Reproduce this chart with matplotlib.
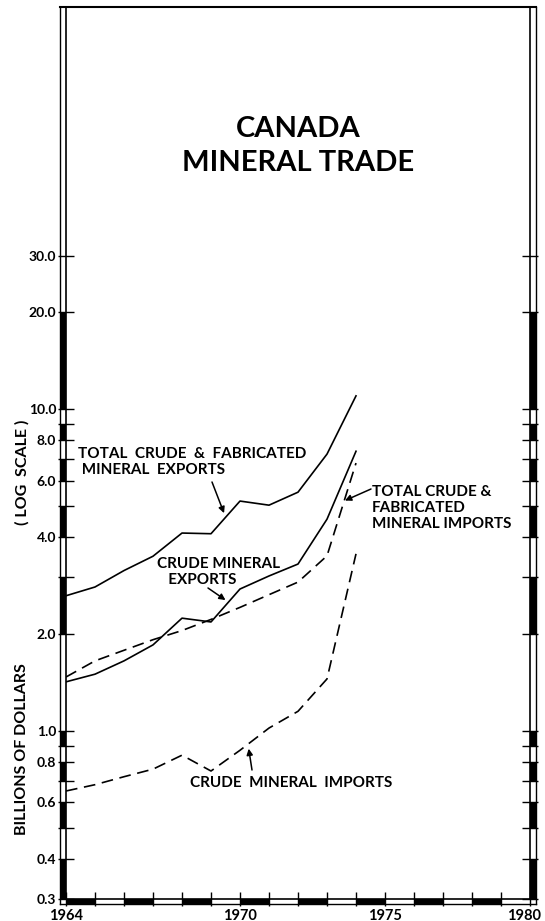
import numpy as np
import matplotlib.pyplot as plt
from matplotlib.patches import Rectangle
from matplotlib.transforms import blended_transform_factory, ScaledTranslation

# values (billions of dollars)
years = list(range(1964, 1975))
total_exports = [2.63, 2.80, 3.15, 3.49, 4.12, 4.10, 5.18, 5.03, 5.52, 7.25, 11.0]
crude_exports = [1.42, 1.50, 1.65, 1.85, 2.24, 2.18, 2.76, 3.03, 3.30, 4.55, 7.4]
total_imports = [1.47, 1.65, 1.78, 1.92, 2.05, 2.22, 2.42, 2.65, 2.90, 3.50, 6.8]
crude_imports = [0.65, 0.68, 0.72, 0.76, 0.84, 0.75, 0.87, 1.02, 1.15, 1.45, 3.55]

ytick_vals = [0.3, 0.4, 0.5, 0.6, 0.7, 0.8, 0.9, 1, 2, 3, 4, 5, 6, 7, 8, 9, 10, 20, 30]
ytick_text = {0.3: "0.3", 0.4: "0.4", 0.6: "0.6", 0.8: "0.8", 1: "1.0", 2: "2.0",
              4: "4.0", 6: "6.0", 8: "8.0", 10: "10.0", 20: "20.0", 30: "30.0"}
xtick_vals = list(range(1964, 1981))
xtick_text = {1964: "1964", 1970: "1970", 1975: "1975", 1980: "1980"}

plt.rcParams['font.family'] = ['Lato', 'DejaVu Sans']

W, H = 545, 921
fig = plt.figure(figsize=(W/100, H/100), dpi=100)
ax = fig.add_axes([66/W, 1-899/H, 464/W, 892/H])
ax.set_yscale('log')
ax.set_ylim(0.3, 178)
ax.set_xlim(1964, 1980)

ax.plot(years, total_exports, color='k', lw=1.2)
ax.plot(years, crude_exports, color='k', lw=1.2)
ax.plot(years, total_imports, color='k', lw=1.2, dashes=(7, 4))
ax.plot(years, crude_imports, color='k', lw=1.2, dashes=(7, 4))

# ticks
ax.set_yticks(ytick_vals)
ax.set_yticklabels([ytick_text.get(v, "") for v in ytick_vals])
ax.yaxis.set_minor_locator(plt.NullLocator())
ax.yaxis.set_minor_formatter(plt.NullFormatter())
ax.set_xticks(xtick_vals)
ax.set_xticklabels([xtick_text.get(v, "") for v in xtick_vals])
ax.tick_params(axis='y', which='both', direction='inout', length=12, width=1,
               right=True, labelright=False, pad=1, labelsize=10)
ax.tick_params(axis='x', direction='inout', length=10, width=1, pad=2, labelsize=10.5)
for lab in ax.get_yticklabels() + ax.get_xticklabels():
    lab.set_fontweight('bold')
last = ax.get_xticklabels()[-1]
last.set_transform(last.get_transform() + ScaledTranslation(-4/72, 0, fig.dpi_scale_trans))
for s in ax.spines.values():
    s.set_linewidth(1.2)

# decorative double frame with alternating black bars
bw_x = 6 / 464
bw_y = 5 / 892
tl = blended_transform_factory(ax.transAxes, ax.transData)
edges = ytick_vals + [178]
for i in range(len(edges) - 1):
    if i % 2 == 0 and edges[i] < 20:
        for x0 in (-bw_x, 1):
            ax.add_patch(Rectangle((x0, edges[i]), bw_x, edges[i+1]-edges[i], transform=tl,
                                   color='k', clip_on=False, lw=0))
    if edges[i] == 10:
        for x0 in (-bw_x, 1):
            ax.add_patch(Rectangle((x0, 10), bw_x, 10, transform=tl,
                                   color='k', clip_on=False, lw=0))
tb = blended_transform_factory(ax.transData, ax.transAxes)
for yr in range(1964, 1980, 2):
    ax.add_patch(Rectangle((yr, -bw_y), 1, bw_y, transform=tb, color='k', clip_on=False, lw=0))
ax.plot([-bw_x, -bw_x], [-bw_y, 1], transform=ax.transAxes, color='k', lw=1, clip_on=False)
ax.plot([1+bw_x, 1+bw_x], [-bw_y, 1], transform=ax.transAxes, color='k', lw=1, clip_on=False)
ax.plot([-bw_x, 1+bw_x], [-bw_y, -bw_y], transform=ax.transAxes, color='k', lw=1, clip_on=False)
ax.plot([-bw_x, 1+bw_x], [1, 1], transform=ax.transAxes, color='k', lw=1.5, clip_on=False)


def fp(x, y):
    return (x / W, 1 - y / H)


fig.text(*fp(298, 129), "CANADA", ha='center', va='center', fontsize=21, fontweight='bold')
fig.text(*fp(298, 163), "MINERAL TRADE", ha='center', va='center', fontsize=21, fontweight='bold')

fig.text(*fp(22, 749), "BILLIONS OF DOLLARS", rotation=90, ha='center', va='center',
         fontsize=11.5, fontweight='bold')
fig.text(*fp(22, 472), "( LOG  SCALE )", rotation=90, ha='center', va='center',
         fontsize=11.5, fontweight='bold')

lab_kw = dict(fontsize=11, fontweight='bold', linespacing=1.2, va='center', ha='left')
fig.text(*fp(78, 462), "TOTAL  CRUDE  &  FABRICATED\n MINERAL  EXPORTS", **lab_kw)
fig.text(*fp(157, 572), "CRUDE MINERAL\n   EXPORTS", **lab_kw)
fig.text(*fp(372, 508), "TOTAL CRUDE &\nFABRICATED\nMINERAL IMPORTS", **lab_kw)
fig.text(*fp(190, 783), "CRUDE  MINERAL  IMPORTS", **lab_kw)

arr = dict(arrowstyle='-|>', color='k', lw=1.1, mutation_scale=9, shrinkA=0, shrinkB=0)
ax.annotate("", xy=(1969.45, 4.75), xytext=(212, H-482), textcoords='figure pixels', arrowprops=arr)
ax.annotate("", xy=(1969.5, 2.55), xytext=(208, H-588), textcoords='figure pixels', arrowprops=arr)
ax.annotate("", xy=(1973.62, 5.2), xytext=(371, H-489), textcoords='figure pixels', arrowprops=arr)
ax.annotate("", xy=(1970.3, 0.88), xytext=(252, H-770), textcoords='figure pixels', arrowprops=arr)

fig.savefig("out.png", dpi=100)
